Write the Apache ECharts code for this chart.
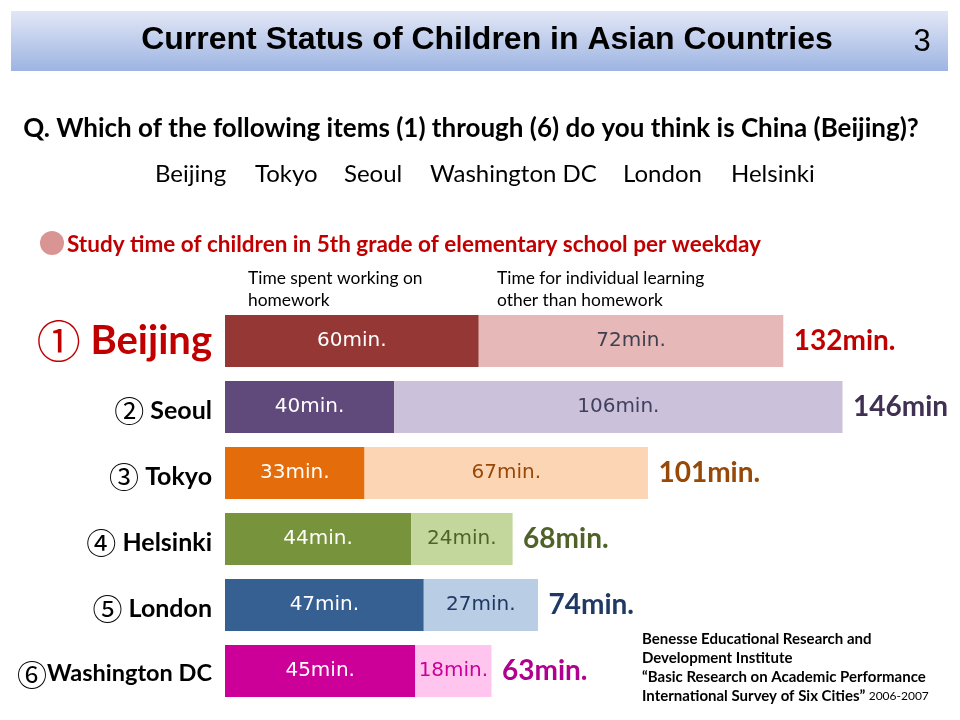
<!DOCTYPE html>
<html><head><meta charset="utf-8">
<script src="https://cdn.jsdelivr.net/npm/echarts@6/dist/echarts.min.js"></script>
<style>html,body{margin:0;padding:0;background:#fff}#c{width:960px;height:720px}</style>
</head><body><div id="c"></div>
<script>
var cities = ['Beijing', 'Seoul', 'Tokyo', 'Helsinki', 'London', 'Washington DC'];
var marks = ['①', '②', '③', '④', '⑤', '⑥'];
var homework = [60, 40, 33, 44, 47, 45];
var other = [72, 106, 67, 24, 27, 18];
var totals = [132, 146, 101, 68, 74, 63];
var totalSuffix = ['min.', 'min', 'min.', 'min.', 'min.', 'min.'];
var darkColors = ['#953735', '#604A7B', '#E46C0A', '#77933C', '#376092', '#CC0099'];
var lightColors = ['#E6B9B8', '#CCC1DA', '#FCD5B5', '#C3D69B', '#B9CDE5', '#FFC5EF'];
var lightLabelColors = ['#3F3F4F', '#3F3F5F', '#984807', '#4F6228', '#1F3864', '#CC0099'];
var totalColors = ['#C00000', '#403152', '#984807', '#4F6228', '#1F3864', '#B0008E'];
var cityList = ['Beijing', 'Tokyo', 'Seoul', 'Washington DC', 'London', 'Helsinki'];
var cityX = [155, 255, 344, 430, 623, 731];

var chart = echarts.init(document.getElementById('c'));
var F = 'Lato, "Noto Sans", sans-serif';
var M = '"DejaVu Sans", Verdana, sans-serif';
var CJK = '"Noto Sans CJK JP", sans-serif';

var graphics = [
  {type:'rect', shape:{x:11,y:11,width:937,height:60}, style:{fill:new echarts.graphic.LinearGradient(0,0,0,1,[{offset:0,color:'#E2E7F6'},{offset:1,color:'#9DB4E2'}])}, z:0},
  {type:'text', x:487, y:40, style:{text:'Current Status of Children in Asian Countries', font:'bold 32px "Liberation Sans Narrow", "Arial Narrow", sans-serif', fill:'#000', textAlign:'center', textVerticalAlign:'middle'}},
  {type:'text', x:922, y:42, style:{text:'3', font:'31px "Liberation Sans Narrow", sans-serif', fill:'#000', textAlign:'center', textVerticalAlign:'middle'}},
  {type:'text', x:471, y:129, style:{text:'Q. Which of the following items (1) through (6) do you think is China (Beijing)?', font:'bold 26px '+F, fill:'#000', textAlign:'center', textVerticalAlign:'middle'}},
  {type:'circle', shape:{cx:52,cy:243,r:12}, style:{fill:'#D99594'}},
  {type:'text', x:67, y:245, style:{text:'Study time of children in 5th grade of elementary school per weekday', font:'bold 22.5px '+F, fill:'#C00000', textVerticalAlign:'middle'}},
  {type:'text', x:248, y:278, style:{text:'Time spent working on', font:'17.4px '+F, fill:'#000', textVerticalAlign:'middle'}},
  {type:'text', x:248, y:300, style:{text:'homework', font:'17.4px '+F, fill:'#000', textVerticalAlign:'middle'}},
  {type:'text', x:497, y:278, style:{text:'Time for individual learning', font:'17.4px '+F, fill:'#000', textVerticalAlign:'middle'}},
  {type:'text', x:497, y:300, style:{text:'other than homework', font:'17.4px '+F, fill:'#000', textVerticalAlign:'middle'}},
  {type:'text', x:642, y:639, style:{text:'Benesse Educational Research and', font:'bold 15px '+F, fill:'#000', textVerticalAlign:'middle'}},
  {type:'text', x:642, y:658, style:{text:'Development Institute', font:'bold 15px '+F, fill:'#000', textVerticalAlign:'middle'}},
  {type:'text', x:642, y:677, style:{text:'\u201CBasic Research on Academic Performance', font:'bold 15px '+F, fill:'#000', textVerticalAlign:'middle'}},
  {type:'text', x:642, y:696, style:{rich:{b:{font:'bold 15px '+F, fill:'#000'}, s:{font:'12px '+F, fill:'#000'}}, text:'{b|International Survey of Six Cities\u201D} {s|2006-2007}', textVerticalAlign:'middle'}}
];
cityList.forEach(function(c, i){
  graphics.push({type:'text', x:cityX[i], y:174, style:{text:c, font:'24px '+F, fill:'#000', textVerticalAlign:'middle'}});
});

var hwData = homework.map(function(v, i){
  return {value:v, itemStyle:{color:darkColors[i]}, label:{color:'#fff'}};
});
var otData = other.map(function(v, i){
  return {value:v, itemStyle:{color:lightColors[i]}, label:{color:lightLabelColors[i]}};
});
var totData = totals.map(function(t, i){
  return {value:[homework[i] + other[i], cities[i]], label:{color:totalColors[i]}};
});

chart.setOption({
  animation:false,
  graphic:graphics,
  grid:{left:225, top:308, width:719, height:396, containLabel:false},
  xAxis:{type:'value', min:0, max:170, show:false},
  yAxis:{type:'category', data:cities, inverse:true,
    axisLine:{show:false}, axisTick:{show:false},
    axisLabel:{margin:13, formatter:function(v){
      var idx = cities.indexOf(v);
      if (idx === 0) return '{bm|' + marks[idx] + '}{bn| ' + v + '}';
      if (idx === 5) return '{m|' + marks[idx] + '}{w|' + v + '}';
      return '{m|' + marks[idx] + '}{n| ' + v + '}';
    }, rich:{
      bm:{fontSize:44, color:'#C00000', fontFamily:CJK},
      bn:{fontSize:40, fontWeight:'bold', color:'#C00000', fontFamily:F},
      m:{fontSize:30, color:'#000', fontFamily:CJK, padding:[8,0,0,0]},
      n:{fontSize:25, fontWeight:'bold', color:'#000', fontFamily:F, padding:[8,0,0,0]},
      w:{fontSize:23.5, fontWeight:'bold', color:'#000', fontFamily:F, padding:[4,0,0,0]}
    }}},
  series:[
    {type:'bar', stack:'t', barWidth:52, data:hwData,
      label:{show:true, position:'inside', fontFamily:M, fontSize:20, formatter:'{c}min.'}},
    {type:'bar', stack:'t', barWidth:52, data:otData,
      label:{show:true, position:'inside', fontFamily:M, fontSize:20, formatter:'{c}min.'}},
    {type:'scatter', data:totData, symbolSize:1, itemStyle:{color:'rgba(0,0,0,0)', opacity:1}, silent:true,
      label:{show:true, position:'right', distance:10, opacity:1, fontFamily:F, fontWeight:'bold', fontSize:28,
        formatter:function(p){ return totals[p.dataIndex] + totalSuffix[p.dataIndex]; }}}
  ]
});
</script></body></html>
